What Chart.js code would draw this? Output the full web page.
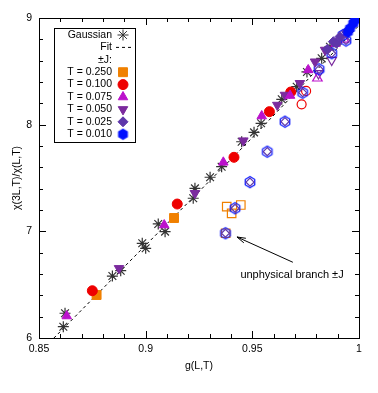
<!DOCTYPE html>
<html><head><meta charset="utf-8">
<script src="https://cdn.jsdelivr.net/npm/chart.js@4/dist/chart.umd.min.js"></script>
<style>html,body{margin:0;padding:0;background:#fff;}canvas{display:block;}</style>
</head><body>
<canvas id="c" width="378" height="393"></canvas>
<script>
// ---------- data ----------
const xTicks = [0.85, 0.9, 0.95, 1];
const xTickLabels = ['0.85', '0.9', '0.95', '1'];
const yTicks = [6, 7, 8, 9];
const yTickLabels = ['6', '7', '8', '9'];
const xMinorTicks = [0.86,0.87,0.88,0.89,0.91,0.92,0.93,0.94,0.96,0.97,0.98,0.99];
const yMinorTicks = [6.2,6.4,6.6,6.8,7.2,7.4,7.6,7.8,8.2,8.4,8.6,8.8];

const fitX = [0.857, 0.90, 0.95, 1.0];
const fitY = [6.0, 6.87, 7.88, 8.93];

const gaussX = [0.8614,0.8622,0.8844,0.8883,0.8984,0.9000,0.9059,0.9091,0.9223,0.9231,0.9302,0.9356,0.9450,0.9508,0.9541,0.9638,0.9708,0.9756,0.9825,0.9864];
const gaussY = [6.106,6.232,6.581,6.631,6.888,6.841,7.069,6.997,7.310,7.403,7.507,7.606,7.840,7.928,8.013,8.238,8.356,8.494,8.622,8.731];

const t250X = [0.8770, 0.9133];
const t250Y = [6.403, 7.125];
const t250pmX = [0.9380, 0.9446, 0.9403, 0.9375];
const t250pmY = [7.231, 7.247, 7.169, 6.982];

const t100X = [0.8750, 0.9148, 0.9414, 0.9580, 0.9680];
const t100Y = [6.443, 7.256, 7.694, 8.122, 8.306];
const t100pmX = [0.9731, 0.9752];
const t100pmY = [8.191, 8.316];

const t075X = [0.8630, 0.9087, 0.9364, 0.9544, 0.9677, 0.9762, 0.9890];
const t075Y = [6.206, 7.059, 7.647, 8.081, 8.273, 8.513, 8.760];
const t075pmX = [0.9805, 0.9930];
const t075pmY = [8.435, 8.800];

const t050X = [0.8875, 0.9231, 0.9458, 0.9617, 0.9653, 0.9723, 0.9794, 0.9841];
const t050Y = [6.653, 7.357, 7.850, 8.184, 8.278, 8.388, 8.590, 8.700];
const t050pmX = [0.9872, 0.9810];
const t050pmY = [8.606, 8.480];

const t025X = [0.9852, 0.9880, 0.9895, 0.9911, 0.9942];
const t025Y = [8.707, 8.778, 8.763, 8.825, 8.872];
const t025pmX = [0.9374, 0.9419, 0.9489, 0.9570, 0.9653, 0.9736, 0.9813, 0.9872, 0.9939];
const t025pmY = [6.982, 7.216, 7.461, 7.747, 8.028, 8.300, 8.519, 8.669, 8.789];

const t010X = [0.9948, 0.9958, 0.9973, 0.9981];
const t010Y = [8.869, 8.903, 8.950, 8.981];
const t010pmX = [0.9374, 0.9419, 0.9489, 0.9570, 0.9653, 0.9736, 0.9813, 0.9872, 0.9926, 0.9939];
const t010pmY = [6.982, 7.216, 7.461, 7.747, 8.028, 8.300, 8.519, 8.669, 8.841, 8.789];

const legendLabels = ['Gaussian', 'Fit', '\u00b1J:', 'T = 0.250', 'T = 0.100', 'T = 0.075', 'T = 0.050', 'T = 0.025', 'T = 0.010'];
const annotationText = 'unphysical branch \u00b1J';

// ---------- helpers ----------
const zip = (xs, ys) => xs.map((x, i) => ({x: x, y: ys[i]}));

function hexCanvas(color, filled, r) {
  const s = Math.ceil(2 * r + 3);
  const c = document.createElement('canvas');
  c.width = s; c.height = s;
  const g = c.getContext('2d');
  g.beginPath();
  for (let k = 0; k < 6; k++) {
    const a = Math.PI / 6 + k * Math.PI / 3;
    const px = s / 2 + r * Math.cos(a), py = s / 2 + r * Math.sin(a);
    if (k === 0) g.moveTo(px, py); else g.lineTo(px, py);
  }
  g.closePath();
  if (filled) { g.fillStyle = color; g.fill(); }
  g.lineWidth = 1.2; g.strokeStyle = color; g.stroke();
  return c;
}

const C_OR = '#f08000', C_RED = '#ee0000', C_MAG = '#bb11cc', C_PUR = '#7b2a9e', C_DIA = '#5e36aa', C_BLUE = '#0010ff';
const hexFilled = hexCanvas(C_BLUE, true, 5);
const hexOpen = hexCanvas(C_BLUE, false, 5.5);

function ds(label, xs, ys, style, color, radius, filled, order, rotation) {
  return {
    label: label, data: zip(xs, ys), pointStyle: style, pointRadius: radius, pointHoverRadius: radius,
    pointRotation: rotation || 0,
    backgroundColor: filled ? color : 'rgba(0,0,0,0)', borderColor: color,
    pointBackgroundColor: filled ? color : 'rgba(0,0,0,0)', pointBorderColor: color,
    pointBorderWidth: filled ? 1 : 1.2, showLine: false, order: order
  };
}

const datasets = [
  {label: 'Fit', type: 'line', data: zip(fitX, fitY), borderColor: '#000', borderWidth: 1, borderDash: [3, 3],
   pointRadius: 0, fill: false, tension: 0.3, order: 20},
  ds('Gaussian', gaussX, gaussY, 'star', '#333', 5.5, false, 15),
  ds('T=0.250 ±J', t250pmX, t250pmY, 'rect', C_OR, 6, false, 12),
  ds('T=0.100 ±J', t100pmX, t100pmY, 'circle', C_RED, 4.5, false, 12),
  ds('T=0.075 ±J', t075pmX, t075pmY, 'triangle', C_MAG, 5.5, false, 12),
  ds('T=0.050 ±J', t050pmX, t050pmY, 'triangle', C_PUR, 5.5, false, 12, 180),
  ds('T=0.010 ±J', t010pmX, t010pmY, hexOpen, C_BLUE, 5, false, 11),
  ds('T=0.025 ±J', t025pmX, t025pmY, 'rectRot', C_DIA, 4, false, 10),
  ds('T=0.250', t250X, t250Y, 'rect', C_OR, 6.3, true, 5),
  ds('T=0.100', t100X, t100Y, 'circle', C_RED, 5, true, 4),
  ds('T=0.075', t075X, t075Y, 'triangle', C_MAG, 5.5, true, 3),
  ds('T=0.050', t050X, t050Y, 'triangle', C_PUR, 5.5, true, 3, 180),
  ds('T=0.025', t025X, t025Y, 'rectRot', C_DIA, 5, true, 2),
  ds('T=0.010', t010X, t010Y, hexFilled, C_BLUE, 5, true, 1)
];

const FONT = 'Liberation Sans, Arial, Helvetica, sans-serif';

const framePlugin = {
  id: 'frame',
  beforeDatasetsDraw(chart) {
    const {ctx, chartArea: a, scales: {x, y}} = chart;
    ctx.save();
    ctx.strokeStyle = '#000'; ctx.lineWidth = 1;
    ctx.strokeRect(Math.round(a.left) + 0.5, Math.round(a.top) + 0.5, Math.round(a.right - a.left), Math.round(a.bottom - a.top));
    ctx.beginPath();
    const tick = (vals, len) => {
      vals.forEach(v => {
        const px = Math.round(x.getPixelForValue(v)) + 0.5;
        ctx.moveTo(px, a.bottom); ctx.lineTo(px, a.bottom - len);
        ctx.moveTo(px, a.top); ctx.lineTo(px, a.top + len);
      });
    };
    const tickY = (vals, len) => {
      vals.forEach(v => {
        const py = Math.round(y.getPixelForValue(v)) + 0.5;
        ctx.moveTo(a.left, py); ctx.lineTo(a.left + len, py);
        ctx.moveTo(a.right, py); ctx.lineTo(a.right - len, py);
      });
    };
    tick(xTicks, 7); tick(xMinorTicks, 4);
    tickY(yTicks, 7); tickY(yMinorTicks, 4);
    ctx.stroke();
    ctx.restore();
  },
  afterDatasetsDraw(chart) {
    const {ctx, scales: {x, y}} = chart;
    ctx.save();
    // legend box
    const bx = 54.5, by = 28.5, bw = 81, bh = 114;
    ctx.fillStyle = '#fff';
    ctx.fillRect(bx, by, bw, bh);
    ctx.strokeStyle = '#000'; ctx.lineWidth = 1;
    ctx.strokeRect(bx, by, bw, bh);
    ctx.font = '10.5px ' + FONT;
    ctx.fillStyle = '#000'; ctx.textAlign = 'right'; ctx.textBaseline = 'middle';
    const mx = 123, tx = 112;
    const rows = legendLabels.map((_, i) => 35 + i * 12.4);
    legendLabels.forEach((t, i) => { ctx.fillStyle = '#000'; ctx.fillText(t, tx, rows[i]); });
    const dp = Chart.helpers.drawPoint;
    const mark = (style, color, r, filled, rot, yy) => {
      ctx.fillStyle = filled ? color : 'rgba(0,0,0,0)';
      ctx.strokeStyle = color; ctx.lineWidth = 1;
      dp(ctx, {pointStyle: style, radius: r, rotation: rot || 0, borderWidth: 1}, mx, yy);
    };
    mark('star', '#333', 5.5, false, 0, rows[0]);
    ctx.beginPath(); ctx.setLineDash([3, 3]); ctx.strokeStyle = '#000';
    ctx.moveTo(116, rows[1]); ctx.lineTo(131, rows[1]); ctx.stroke(); ctx.setLineDash([]);
    mark('rect', C_OR, 6.3, true, 0, rows[3]);
    mark('circle', C_RED, 5, true, 0, rows[4]);
    mark('triangle', C_MAG, 5.5, true, 0, rows[5]);
    mark('triangle', C_PUR, 5.5, true, 180, rows[6]);
    mark('rectRot', C_DIA, 5, true, 0, rows[7]);
    mark(hexFilled, C_BLUE, 5, true, 0, rows[8]);
    // annotation arrow
    const tipX = x.getPixelForValue(0.9428), tipY = y.getPixelForValue(6.947);
    const tailX = x.getPixelForValue(0.9690), tailY = y.getPixelForValue(6.71);
    ctx.strokeStyle = '#000'; ctx.fillStyle = '#000'; ctx.lineWidth = 1;
    ctx.beginPath(); ctx.moveTo(tailX, tailY); ctx.lineTo(tipX, tipY); ctx.stroke();
    const ang = Math.atan2(tipY - tailY, tipX - tailX);
    const hl = 9, hw = 0.28;
    ctx.beginPath();
    ctx.moveTo(tipX - hl * Math.cos(ang - hw), tipY - hl * Math.sin(ang - hw));
    ctx.lineTo(tipX, tipY);
    ctx.lineTo(tipX - hl * Math.cos(ang + hw), tipY - hl * Math.sin(ang + hw));
    ctx.stroke();
    ctx.font = '11px ' + FONT; ctx.textAlign = 'center'; ctx.textBaseline = 'middle';
    ctx.fillText(annotationText, x.getPixelForValue(0.9686), y.getPixelForValue(6.595));
    ctx.restore();
  }
};

new Chart(document.getElementById('c'), {
  type: 'scatter',
  data: {datasets: datasets},
  options: {
    responsive: false, animation: false, devicePixelRatio: 1,
    layout: {padding: {top: 18, right: 19, left: 0, bottom: 0}},
    plugins: {legend: {display: false}, tooltip: {enabled: false}},
    scales: {
      x: {
        type: 'linear', min: 0.85, max: 1,
        afterBuildTicks: s => { s.ticks = xTicks.map(v => ({value: v})); },
        afterFit: s => { s.height = 55; },
        ticks: {autoSkip: false, maxRotation: 0, padding: 5, color: '#000', font: {family: FONT, size: 10.5},
          callback: (v, i) => xTickLabels[i]},
        grid: {display: false, drawTicks: false}, border: {display: false},
        title: {display: true, text: 'g(L,T)', color: '#000', font: {family: FONT, size: 10.5}, padding: {top: 0, bottom: 21}}
      },
      y: {
        type: 'linear', min: 6, max: 9,
        afterBuildTicks: s => { s.ticks = yTicks.map(v => ({value: v})); },
        afterFit: s => { s.width = 39; },
        ticks: {autoSkip: false, padding: 7, color: '#000', font: {family: FONT, size: 10.5},
          callback: (v, i) => yTickLabels[i]},
        grid: {display: false, drawTicks: false}, border: {display: false},
        title: {display: true, text: '\u03c7(3L,T)/\u03c7(L,T)', color: '#000', font: {family: FONT, size: 10.5}, padding: {top: 11, bottom: 0}}
      }
    }
  },
  plugins: [framePlugin]
});
</script>
</body></html>
